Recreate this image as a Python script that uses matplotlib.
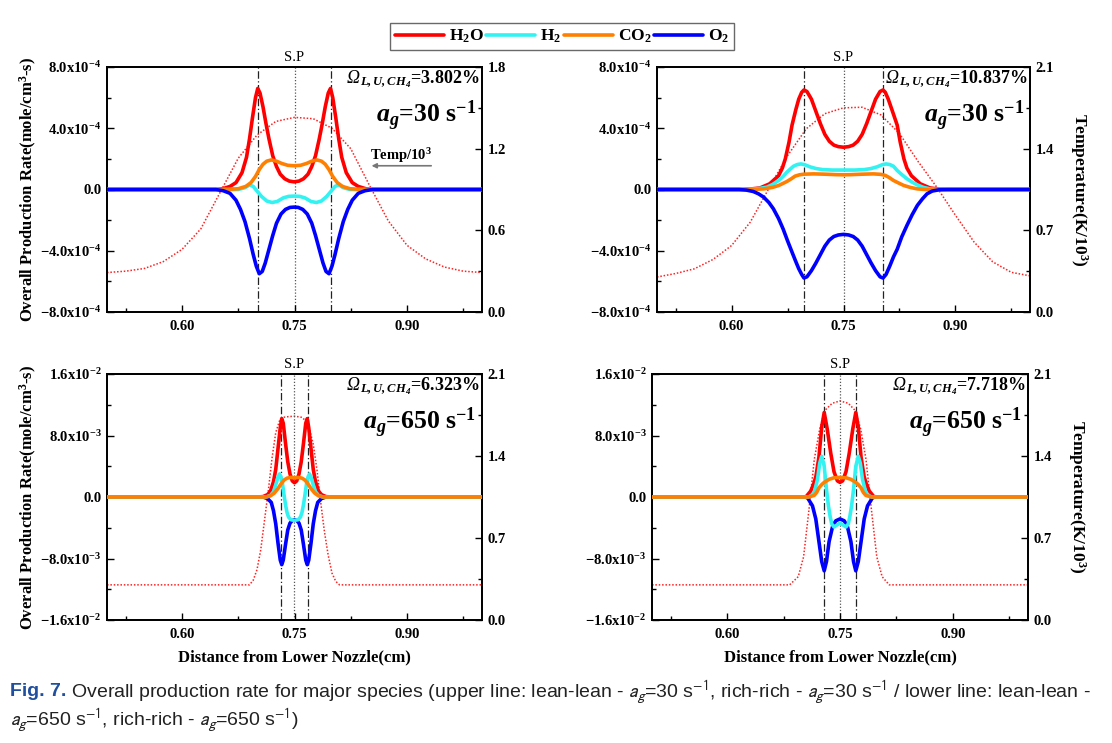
import matplotlib
matplotlib.use('Agg')
import matplotlib.pyplot as plt
from matplotlib.transforms import blended_transform_factory

plt.rcParams.update({
    'font.family': 'Liberation Serif',
    'mathtext.fontset': 'custom',
    'mathtext.rm': 'Liberation Serif',
    'mathtext.it': 'Liberation Serif:italic',
    'mathtext.bf': 'Liberation Serif:bold',
    'mathtext.bfit': 'Liberation Serif:bold:italic',
})

# ---------------- data ----------------
species = ['H$_2$O', 'H$_2$', 'CO$_2$', 'O$_2$']
colors = ['#ff0000', '#33f2f2', '#ff8000', '#0000ff']

# Panel A : lean-lean, a_g = 30 1/s   (production rates in 1e-4 mole/cm3-s, T in 1e3 K)
A_h2o_x = [0.50, 0.645, 0.655, 0.664, 0.672, 0.680, 0.686, 0.690, 0.694, 0.698, 0.701, 0.704, 0.708, 0.712, 0.716, 0.721, 0.726, 0.731, 0.737, 0.743, 0.7495,
           0.756, 0.762, 0.768, 0.773, 0.778, 0.783, 0.787, 0.791, 0.795, 0.798, 0.801, 0.805, 0.809, 0.813, 0.819, 0.827, 0.835, 0.845, 0.855, 1.0]
A_h2o_y = [0, 0, 0.06, 0.2, 0.45, 1.1, 2.1, 3.3, 4.7, 6.0, 6.6, 6.3, 5.4, 4.3, 3.3, 2.2, 1.5, 1.0, 0.7, 0.55, 0.5,
           0.55, 0.7, 1.0, 1.5, 2.2, 3.3, 4.3, 5.4, 6.3, 6.6, 6.0, 4.7, 3.3, 2.1, 1.1, 0.45, 0.2, 0.05, 0, 0]
A_h2_x = [0.50, 0.675, 0.684, 0.690, 0.695, 0.700, 0.706, 0.713, 0.720, 0.727, 0.735, 0.742, 0.7495,
          0.757, 0.764, 0.772, 0.779, 0.786, 0.793, 0.799, 0.804, 0.809, 0.815, 0.824, 1.0]
A_h2_y = [0, 0, 0.12, 0.3, 0.2, -0.1, -0.45, -0.75, -0.85, -0.78, -0.55, -0.45, -0.43,
          -0.45, -0.55, -0.78, -0.85, -0.75, -0.45, -0.1, 0.2, 0.3, 0.12, 0, 0]
A_co2_x = [0.50, 0.660, 0.675, 0.685, 0.692, 0.698, 0.703, 0.708, 0.713, 0.719, 0.726, 0.733, 0.741, 0.7495,
           0.758, 0.766, 0.773, 0.780, 0.786, 0.791, 0.796, 0.801, 0.807, 0.814, 0.824, 0.840, 1.0]
A_co2_y = [0, 0, 0.05, 0.2, 0.45, 0.85, 1.3, 1.65, 1.85, 1.93, 1.85, 1.7, 1.58, 1.55,
           1.58, 1.7, 1.85, 1.93, 1.85, 1.65, 1.3, 0.85, 0.45, 0.2, 0.05, 0, 0]
A_o2_x = [0.50, 0.645, 0.655, 0.664, 0.672, 0.678, 0.684, 0.690, 0.695, 0.699, 0.703, 0.707, 0.711, 0.716, 0.721, 0.726, 0.732, 0.738, 0.744, 0.7495,
          0.755, 0.761, 0.767, 0.773, 0.778, 0.783, 0.788, 0.792, 0.796, 0.800, 0.804, 0.809, 0.815, 0.821, 0.827, 0.835, 0.844, 0.854, 1.0]
A_o2_y = [0, 0, -0.08, -0.25, -0.7, -1.3, -2.1, -3.2, -4.25, -5.0, -5.5, -5.35, -4.8, -3.9, -3.0, -2.2, -1.6, -1.3, -1.17, -1.15,
          -1.17, -1.3, -1.6, -2.2, -3.0, -3.9, -4.8, -5.35, -5.5, -5.0, -4.25, -3.2, -2.1, -1.3, -0.7, -0.25, -0.08, 0, 0]
A_t_x = [0.5, 0.525, 0.55, 0.575, 0.6, 0.625, 0.65, 0.675, 0.7, 0.725, 0.75, 0.775, 0.8, 0.825, 0.85, 0.875, 0.9, 0.925, 0.95, 0.975, 1.0]
A_t_y = [0.29, 0.30, 0.32, 0.37, 0.46, 0.61, 0.87, 1.13, 1.30, 1.40, 1.43, 1.42, 1.35, 1.20, 0.93, 0.67, 0.49, 0.39, 0.33, 0.30, 0.29]

# Panel B : rich-rich, a_g = 30 1/s
B_h2o_x = [0.50, 0.610, 0.625, 0.638, 0.651, 0.663, 0.668, 0.672, 0.677, 0.681, 0.686, 0.690, 0.694, 0.697, 0.701, 0.707, 0.713, 0.719, 0.725, 0.731, 0.737, 0.743, 0.750,
           0.757, 0.763, 0.769, 0.775, 0.781, 0.787, 0.793, 0.799, 0.803, 0.806, 0.810, 0.815, 0.822, 0.826, 0.831, 0.835, 0.841, 0.853, 0.866, 0.878, 0.890, 1.0]
B_h2o_y = [0, 0, 0.03, 0.1, 0.37, 0.9, 1.4, 2.0, 3.1, 4.2, 5.2, 5.9, 6.35, 6.5, 6.4, 5.9, 5.1, 4.3, 3.6, 3.15, 2.9, 2.8, 2.76,
           2.8, 2.9, 3.15, 3.6, 4.3, 5.1, 5.9, 6.4, 6.5, 6.35, 5.9, 5.2, 4.2, 3.1, 2.0, 1.4, 0.9, 0.37, 0.1, 0.03, 0, 0]
B_h2_x = [0.50, 0.620, 0.635, 0.647, 0.655, 0.663, 0.669, 0.674, 0.679, 0.683, 0.688, 0.693, 0.698, 0.705, 0.713, 0.722, 0.735, 0.750,
          0.765, 0.778, 0.787, 0.795, 0.802, 0.807, 0.812, 0.817, 0.822, 0.828, 0.835, 0.842, 0.849, 0.857, 0.866, 0.878, 1.0]
B_h2_y = [0, 0, 0.05, 0.15, 0.33, 0.59, 0.85, 1.13, 1.35, 1.52, 1.63, 1.67, 1.62, 1.48, 1.37, 1.3, 1.27, 1.27,
          1.27, 1.3, 1.37, 1.48, 1.62, 1.67, 1.63, 1.52, 1.24, 0.98, 0.7, 0.48, 0.3, 0.14, 0.04, 0, 0]
B_co2_x = [0.50, 0.625, 0.643, 0.655, 0.663, 0.669, 0.674, 0.680, 0.685, 0.691, 0.697, 0.710, 0.725, 0.740, 0.750,
           0.760, 0.775, 0.790, 0.800, 0.806, 0.811, 0.817, 0.824, 0.831, 0.840, 0.849, 0.860, 1.0]
B_co2_y = [0, 0, 0.04, 0.14, 0.26, 0.4, 0.52, 0.7, 0.87, 0.96, 1.0, 1.02, 1.0, 0.97, 0.96,
           0.97, 1.0, 1.02, 0.99, 0.92, 0.79, 0.59, 0.42, 0.26, 0.13, 0.04, 0, 0]
B_o2_x = [0.50, 0.610, 0.620, 0.629, 0.636, 0.643, 0.650, 0.656, 0.663, 0.669, 0.675, 0.681, 0.686, 0.690, 0.694, 0.697, 0.701, 0.707, 0.713, 0.719, 0.725, 0.731, 0.737, 0.743, 0.750,
          0.757, 0.763, 0.769, 0.775, 0.781, 0.787, 0.793, 0.799, 0.803, 0.807, 0.812, 0.817, 0.822, 0.828, 0.835, 0.842, 0.849, 0.856, 0.862, 0.869, 0.878, 0.890, 1.0]
B_o2_y = [0, 0, -0.04, -0.13, -0.28, -0.5, -0.85, -1.26, -1.9, -2.57, -3.35, -4.09, -4.7, -5.17, -5.55, -5.78, -5.7, -5.3, -4.8, -4.25, -3.7, -3.3, -3.07, -2.97, -2.93,
          -2.97, -3.07, -3.3, -3.7, -4.25, -4.8, -5.3, -5.7, -5.78, -5.55, -5.0, -4.4, -3.9, -3.1, -2.35, -1.65, -1.04, -0.6, -0.28, -0.1, -0.02, 0, 0]
B_t_x = [0.5, 0.525, 0.55, 0.575, 0.6, 0.625, 0.65, 0.675, 0.7, 0.725, 0.75, 0.775, 0.8, 0.825, 0.85, 0.875, 0.9, 0.925, 0.95, 0.975, 1.0]
B_t_y = [0.30, 0.33, 0.37, 0.45, 0.57, 0.77, 1.06, 1.34, 1.57, 1.70, 1.75, 1.755, 1.69, 1.53, 1.29, 1.07, 0.83, 0.60, 0.43, 0.34, 0.31]

# Panel C : lean-lean, a_g = 650 1/s   (production rates in 1e-3 mole/cm3-s)
C_h2o_x = [0.50, 0.700, 0.708, 0.714, 0.718, 0.722, 0.725, 0.728, 0.731, 0.733, 0.735, 0.738, 0.741, 0.744, 0.747, 0.750,
           0.753, 0.756, 0.759, 0.762, 0.765, 0.767, 0.769, 0.772, 0.775, 0.778, 0.782, 0.786, 0.792, 0.800, 1.0]
C_h2o_y = [0, 0, 0.05, 0.3, 0.77, 2.0, 3.6, 6.3, 9.0, 10.2, 9.6, 7.0, 4.6, 3.0, 2.1, 1.85,
           2.1, 3.0, 4.6, 7.0, 9.6, 10.2, 9.0, 6.3, 3.6, 2.0, 0.77, 0.3, 0.05, 0, 0]
C_h2_x = [0.50, 0.712, 0.718, 0.722, 0.725, 0.728, 0.730, 0.732, 0.734, 0.736, 0.738, 0.740, 0.742, 0.745, 0.750,
          0.755, 0.758, 0.760, 0.762, 0.764, 0.766, 0.768, 0.770, 0.772, 0.775, 0.778, 0.782, 0.788, 1.0]
C_h2_y = [0, 0, 0.2, 0.7, 1.6, 2.6, 3.0, 2.6, 1.7, 0.3, -1.0, -2.0, -2.6, -2.95, -3.05,
          -2.95, -2.6, -2.0, -1.0, 0.3, 1.7, 2.6, 3.0, 2.6, 1.6, 0.7, 0.2, 0, 0]
C_co2_x = [0.50, 0.712, 0.718, 0.723, 0.728, 0.732, 0.736, 0.740, 0.745, 0.750, 0.755, 0.760, 0.764, 0.768, 0.772, 0.777, 0.782, 0.788, 1.0]
C_co2_y = [0, 0, 0.15, 0.5, 1.1, 1.7, 2.2, 2.45, 2.55, 2.5, 2.55, 2.45, 2.2, 1.7, 1.1, 0.5, 0.15, 0, 0]
C_o2_x = [0.50, 0.708, 0.714, 0.719, 0.722, 0.725, 0.728, 0.731, 0.733, 0.735, 0.738, 0.741, 0.744, 0.747, 0.750,
          0.753, 0.756, 0.759, 0.762, 0.765, 0.767, 0.769, 0.772, 0.775, 0.778, 0.781, 0.786, 0.792, 1.0]
C_o2_y = [0, 0, -0.2, -0.7, -1.8, -3.5, -6.0, -8.2, -8.8, -8.2, -6.2, -4.3, -3.4, -3.05, -2.95,
          -3.05, -3.4, -4.3, -6.2, -8.2, -8.8, -8.2, -6.0, -3.5, -1.8, -0.7, -0.2, 0, 0]
C_t_x = [0.5, 0.690, 0.695, 0.700, 0.705, 0.710, 0.715, 0.720, 0.725, 0.730, 0.735, 0.740, 0.750, 0.760, 0.765, 0.770, 0.775, 0.780, 0.785, 0.790, 0.795, 0.800, 0.805, 0.810, 1.0]
C_t_y = [0.30, 0.30, 0.34, 0.43, 0.60, 0.85, 1.10, 1.38, 1.60, 1.70, 1.73, 1.735, 1.74, 1.73, 1.70, 1.63, 1.50, 1.28, 1.00, 0.75, 0.55, 0.40, 0.33, 0.30, 0.30]

# Panel D : rich-rich, a_g = 650 1/s
D_h2o_x = [0.50, 0.700, 0.705, 0.711, 0.715, 0.718, 0.722, 0.7257, 0.729, 0.733, 0.7377, 0.742, 0.7465, 0.750,
           0.7535, 0.758, 0.7623, 0.767, 0.771, 0.7743, 0.778, 0.782, 0.785, 0.789, 0.795, 0.800, 1.0]
D_h2o_y = [0, 0, 0.05, 0.77, 1.7, 2.7, 5.2, 9.1, 11.0, 8.85, 5.7, 3.3, 2.1, 1.9,
           2.1, 3.3, 5.7, 8.85, 11.0, 9.1, 5.2, 2.7, 1.7, 0.77, 0.05, 0, 0]
D_h2_x = [0.50, 0.708, 0.712, 0.7156, 0.720, 0.723, 0.7257, 0.729, 0.732, 0.7346, 0.737, 0.739, 0.742, 0.745, 0.750,
          0.755, 0.758, 0.761, 0.763, 0.7654, 0.768, 0.771, 0.7743, 0.777, 0.780, 0.7844, 0.788, 0.792, 1.0]
D_h2_y = [0, 0, 0.2, 0.55, 2.26, 4.4, 5.3, 4.0, 1.0, -1.15, -2.6, -3.5, -3.9, -3.7, -3.4,
          -3.7, -3.9, -3.5, -2.6, -1.15, 1.0, 4.0, 5.3, 4.4, 2.26, 0.55, 0.2, 0, 0]
D_co2_x = [0.50, 0.708, 0.7156, 0.719, 0.722, 0.726, 0.729, 0.7355, 0.742, 0.750, 0.758, 0.7645, 0.771, 0.774, 0.778, 0.781, 0.7844, 0.792, 1.0]
D_co2_y = [0, 0, 0.2, 0.6, 1.2, 1.65, 1.9, 2.3, 2.5, 2.55, 2.5, 2.3, 1.9, 1.65, 1.2, 0.6, 0.2, 0, 0]
D_o2_x = [0.50, 0.703, 0.7068, 0.7134, 0.7178, 0.722, 0.7257, 0.729, 0.732, 0.7355, 0.740, 0.7443, 0.750,
          0.7557, 0.760, 0.7645, 0.768, 0.771, 0.7743, 0.778, 0.7822, 0.7866, 0.7932, 0.797, 1.0]
D_o2_y = [0, 0, -0.1, -1.15, -2.85, -5.8, -8.4, -9.6, -8.4, -5.8, -3.9, -3.1, -2.85,
          -3.1, -3.9, -5.8, -8.4, -9.6, -8.4, -5.8, -2.85, -1.15, -0.1, 0, 0]
D_t_x = [0.5, 0.683, 0.6945, 0.7016, 0.7087, 0.7158, 0.723, 0.730, 0.7396, 0.750, 0.761, 0.770, 0.7775, 0.7846, 0.7918, 0.7989, 0.806, 0.8155, 1.0]
D_t_y = [0.30, 0.30, 0.37, 0.54, 0.94, 1.37, 1.63, 1.79, 1.85, 1.87, 1.85, 1.79, 1.63, 1.37, 0.94, 0.54, 0.37, 0.30, 0.30]

# reaction-zone markers (peak positions) and stagnation plane
A_marks = [0.701, 0.798]; A_sp = 0.750
B_marks = [0.697, 0.803]; B_sp = 0.750
C_marks = [0.732, 0.768]; C_sp = 0.749
D_marks = [0.729, 0.771]; D_sp = 0.750

omega_values = ['3.802', '10.837', '6.323', '7.718']
strain_values = ['30', '30', '650', '650']

x_ticks = [0.60, 0.75, 0.90]
x_ticklabels = ['0.60', '0.75', '0.90']

top_yticks = [-8e-4, -4e-4, 0, 4e-4, 8e-4]
top_yticklabels = [r'$\mathbf{-8.0x10^{-4}}$', r'$\mathbf{-4.0x10^{-4}}$', '0.0', r'$\mathbf{4.0x10^{-4}}$', r'$\mathbf{8.0x10^{-4}}$']
bot_yticks = [-1.6e-2, -8e-3, 0, 8e-3, 1.6e-2]
bot_yticklabels = [r'$\mathbf{-1.6x10^{-2}}$', r'$\mathbf{-8.0x10^{-3}}$', '0.0', r'$\mathbf{8.0x10^{-3}}$', r'$\mathbf{1.6x10^{-2}}$']
tA_ticks = [0.0, 0.6, 1.2, 1.8]
tB_ticks = [0.0, 0.7, 1.4, 2.1]

# ---------------- figure ----------------
W, H = 1112, 743
fig = plt.figure(figsize=(W / 100, H / 100), dpi=100)
renderer = fig.canvas.get_renderer()


def rect(l, t, r, b):
    return [l / W, 1 - b / H, (r - l) / W, (b - t) / H]


panels = [
    dict(rect=rect(107, 67, 482, 312), scale=1e-4, data=[(A_h2o_x, A_h2o_y), (A_h2_x, A_h2_y), (A_co2_x, A_co2_y), (A_o2_x, A_o2_y)],
         t=(A_t_x, A_t_y), marks=A_marks, sp=A_sp, yt=top_yticks, ytl=top_yticklabels, ymin=[-6e-4, -2e-4, 2e-4, 6e-4],
         tt=tA_ticks, tmin=[0.3, 0.9, 1.5], left=True, right=False, xl=False, order=[0, 1, 2, 3]),
    dict(rect=rect(657, 67, 1030, 312), scale=1e-4, data=[(B_h2o_x, B_h2o_y), (B_h2_x, B_h2_y), (B_co2_x, B_co2_y), (B_o2_x, B_o2_y)],
         t=(B_t_x, B_t_y), marks=B_marks, sp=B_sp, yt=top_yticks, ytl=top_yticklabels, ymin=[-6e-4, -2e-4, 2e-4, 6e-4],
         tt=tB_ticks, tmin=[0.35, 1.05, 1.75], left=False, right=True, xl=False, order=[0, 1, 2, 3]),
    dict(rect=rect(107, 374, 482, 620), scale=1e-3, data=[(C_h2o_x, C_h2o_y), (C_h2_x, C_h2_y), (C_co2_x, C_co2_y), (C_o2_x, C_o2_y)],
         t=(C_t_x, C_t_y), marks=C_marks, sp=C_sp, yt=bot_yticks, ytl=bot_yticklabels, ymin=[-1.2e-2, -4e-3, 4e-3, 1.2e-2],
         tt=tB_ticks, tmin=[0.35, 1.05, 1.75], left=True, right=False, xl=True, order=[3, 0, 1, 2]),
    dict(rect=rect(652, 374, 1028, 620), scale=1e-3, data=[(D_h2o_x, D_h2o_y), (D_h2_x, D_h2_y), (D_co2_x, D_co2_y), (D_o2_x, D_o2_y)],
         t=(D_t_x, D_t_y), marks=D_marks, sp=D_sp, yt=bot_yticks, ytl=bot_yticklabels, ymin=[-1.2e-2, -4e-3, 4e-3, 1.2e-2],
         tt=tB_ticks, tmin=[0.35, 1.05, 1.75], left=False, right=True, xl=True, order=[3, 0, 1, 2]),
]

TICK_FS = 10.5
handles = [None] * 4
for i, p in enumerate(panels):
    ax = fig.add_axes(p['rect'])
    ax2 = ax.twinx()
    ax.set_zorder(ax2.get_zorder() + 1)
    ax.patch.set_visible(False)

    for m in p['marks']:
        ax.axvline(m, color='#222222', lw=0.9, ls=(0, (6, 2, 1, 2)), zorder=1)
    ax.axvline(p['sp'], color='#555555', lw=0.9, ls=(0, (1, 1.5)), zorder=1)

    for pos, k in enumerate(p['order']):
        xs, ys = p['data'][k]
        ln, = ax.plot(xs, [v * p['scale'] for v in ys], color=colors[k], lw=2.6, zorder=3 + pos * 0.1,
                      solid_capstyle='round', solid_joinstyle='round')
        if handles[k] is None:
            handles[k] = ln

    ax2.plot(p['t'][0], p['t'][1], color='#ff2020', lw=1.1, ls=(0, (1, 1.2)))

    ax.set_xlim(0.5, 1.0)
    ax.set_ylim(p['yt'][0], p['yt'][-1])
    ax2.set_ylim(p['tt'][0], p['tt'][-1])

    ax.set_xticks(x_ticks)
    ax.set_xticklabels(x_ticklabels, fontweight='bold', fontsize=TICK_FS)
    ax.set_xticks([0.525, 0.675, 0.825, 0.975], minor=True)
    ax.set_yticks(p['yt'])
    ax.set_yticklabels(p['ytl'], fontweight='bold', fontsize=TICK_FS)
    ax.set_yticks(p['ymin'], minor=True)
    ax2.set_yticks(p['tt'])
    ax2.set_yticklabels(['%.1f' % v for v in p['tt']], fontweight='bold', fontsize=TICK_FS)
    ax2.set_yticks(p['tmin'], minor=True)

    for a in (ax, ax2):
        a.tick_params(which='both', direction='in', width=1.0, top=False)
        a.tick_params(which='major', length=5, pad=4)
        a.tick_params(which='minor', length=3)
        for s in a.spines.values():
            s.set_linewidth(1.3)
    ax.tick_params(axis='x', pad=6)

    if p['left']:
        ax.set_ylabel('Overall Production Rate(mole/cm$^{\\mathbf{3}}$-s)', fontweight='bold', fontsize=12, labelpad=1)
    if p['right']:
        ax2.set_ylabel('Temperature(K/10$^{\\mathbf{3}}$)', fontweight='bold', fontsize=12.5, rotation=-90, labelpad=26)
    if p['xl']:
        ax.set_xlabel('Distance from Lower Nozzle(cm)', fontweight='bold', fontsize=12, labelpad=6)

    tr = blended_transform_factory(ax.transData, ax.transAxes)
    ax.text(0.75, 1.012, 'S.P', transform=tr, ha='center', va='bottom', fontsize=10.5)

    # equivalence-ratio annotation: italic Omega followed by bold-italic subscript and bold value
    om = ax.text(0.993, 0.935, r'$_{\mathbfit{L,U,CH_4}}$=' + omega_values[i] + '%',
                 transform=ax.transAxes, ha='right', va='baseline', fontsize=13, fontweight='bold')
    ob = om.get_window_extent(renderer)
    ax_bb = ax.get_window_extent(renderer)
    ax.text((ob.x0 - ax_bb.x0) / ax_bb.width, 0.935, 'Ω', transform=ax.transAxes, ha='right', va='baseline',
            fontsize=13, fontstyle='italic')

    ax.text(0.985, 0.80, r'$\mathbfit{a}_{\mathbfit{g}}$=' + strain_values[i] + r' s$^{\mathbf{-1}}$',
            transform=ax.transAxes, ha='right', va='center', fontsize=18.5, fontweight='bold')

    if i == 0:
        ax.text(0.851, 2.2e-4, 'Temp/10$^{\\mathbf{3}}$', ha='left', va='center', fontsize=10.5, fontweight='bold')
        ax.annotate('', xy=(0.849, 1.55e-4), xytext=(0.936, 1.55e-4),
                    arrowprops=dict(arrowstyle='-|>', color='#777777', lw=1.2, mutation_scale=7))

leg = fig.legend(handles, [r'$\mathbf{H_2O}$', r'$\mathbf{H_2}$', r'$\mathbf{CO_2}$', r'$\mathbf{O_2}$'],
                 loc='upper center', bbox_to_anchor=(562 / W, 1 - 14 / H), ncol=4, frameon=True, fancybox=False,
                 edgecolor='#444444', fontsize=12.5, handlelength=2.8, handletextpad=0.3, columnspacing=0.15,
                 borderpad=0.3)
leg.get_frame().set_linewidth(1.0)

cap_font = 'Liberation Sans'
cap_size = 14

t1 = fig.text(10 / W, 1 - 692 / H, 'Fig. 7.', color='#1f4f9e', fontsize=cap_size, family=cap_font,
              fontweight='bold', va='center')
bb = t1.get_window_extent(renderer)
line1 = (' Overall production rate for major species (upper line: lean-lean - $a_g$=30 s$^{-1}$, '
         'rich-rich - $a_g$=30 s$^{-1}$ / lower line: lean-lean -')
line2 = '$a_g$=650 s$^{-1}$, rich-rich - $a_g$=650 s$^{-1}$)'
fig.text(bb.x1 / W, 1 - 692 / H, line1, color='#222222', fontsize=cap_size, family=cap_font, va='center',
         math_fontfamily='stixsans')
fig.text(10 / W, 1 - 720 / H, line2, color='#222222', fontsize=cap_size, family=cap_font, va='center',
         math_fontfamily='stixsans')

fig.savefig('out.png', dpi=100)
